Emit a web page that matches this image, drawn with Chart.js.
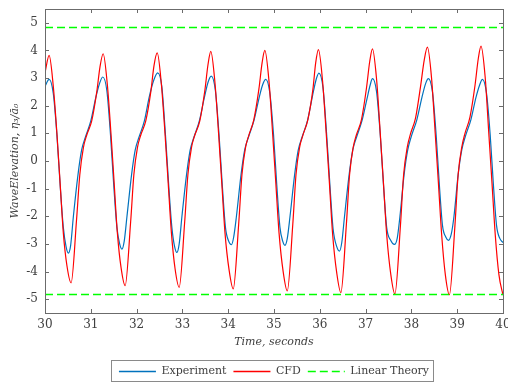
<!DOCTYPE html>
<html>
<head>
<meta charset="utf-8">
<script src="https://cdn.jsdelivr.net/npm/chart.js@4"></script>
<style>
  html, body { margin: 0; padding: 0; background: #fff; }
  canvas { display: block; }
</style>
</head>
<body>
<canvas id="waveChart" width="508" height="383"></canvas>
<script>
// Experiment series
var expTime = [30.00, 30.09,
  30.18, 30.26, 30.33, 30.40, 30.46, 30.51,
  30.56, 30.62, 30.72, 30.80, 30.88, 31.00, 31.11, 31.19, 31.26,
  31.35, 31.43, 31.50, 31.57, 31.63, 31.68,
  31.73, 31.79, 31.89, 31.97, 32.05, 32.17, 32.28, 32.38, 32.46,
  32.55, 32.63, 32.70, 32.77, 32.83, 32.88,
  32.93, 32.99, 33.09, 33.17, 33.25, 33.37, 33.48, 33.56, 33.63,
  33.72, 33.80, 33.87, 33.94, 34.01, 34.07,
  34.12, 34.18, 34.28, 34.36, 34.44, 34.56, 34.67, 34.75, 34.82,
  34.91, 34.99, 35.06, 35.13, 35.19, 35.24,
  35.29, 35.35, 35.45, 35.53, 35.61, 35.73, 35.84, 35.92, 35.98,
  36.07, 36.15, 36.22, 36.29, 36.37, 36.43,
  36.48, 36.54, 36.64, 36.72, 36.80, 36.92, 37.03, 37.10, 37.15,
  37.24, 37.32, 37.39, 37.46, 37.55, 37.63,
  37.69, 37.75, 37.84, 37.92, 38.00, 38.12, 38.23, 38.31, 38.37,
  38.46, 38.54, 38.61, 38.68, 38.75, 38.81,
  38.87, 38.93, 39.02, 39.10, 39.18, 39.30, 39.41, 39.49, 39.55,
  39.64, 39.72, 39.79, 39.86, 39.93, 40.00];
var expValue = [2.70, 2.95,
  2.45, 0.95, -0.85, -2.40, -3.10, -3.33,
  -3.05, -2.00, -0.50, 0.40, 0.85, 1.45, 2.30, 2.80, 3.04,
  2.55, 0.95, -0.85, -2.40, -3.00, -3.19,
  -2.90, -2.00, -0.50, 0.40, 0.85, 1.45, 2.35, 2.95, 3.19,
  2.70, 0.95, -0.85, -2.40, -3.10, -3.31,
  -3.00, -2.00, -0.50, 0.40, 0.85, 1.45, 2.30, 2.85, 3.07,
  2.55, 0.95, -0.85, -2.40, -2.90, -3.03,
  -2.75, -2.00, -0.50, 0.40, 0.85, 1.45, 2.25, 2.75, 2.95,
  2.45, 0.95, -0.85, -2.40, -2.90, -3.05,
  -2.80, -2.00, -0.50, 0.40, 0.85, 1.45, 2.35, 2.95, 3.18,
  2.65, 0.95, -0.85, -2.45, -3.10, -3.26,
  -2.95, -2.00, -0.50, 0.40, 0.85, 1.45, 2.25, 2.75, 2.98,
  2.50, 0.95, -0.85, -2.40, -2.88, -3.02,
  -2.80, -2.00, -0.50, 0.40, 0.90, 1.50, 2.30, 2.80, 2.98,
  2.50, 0.95, -0.85, -2.35, -2.75, -2.87,
  -2.65, -2.00, -0.50, 0.40, 0.90, 1.50, 2.30, 2.75, 2.95,
  2.45, 0.95, -0.85, -2.35, -2.80, -2.95];

// CFD series
var cfdTime = [30.00, 30.09,
  30.18, 30.26, 30.33, 30.40, 30.48, 30.57,
  30.69, 30.76, 30.84, 30.91, 31.02, 31.13, 31.20, 31.27,
  31.36, 31.44, 31.51, 31.58, 31.66, 31.75,
  31.87, 31.94, 32.02, 32.09, 32.20, 32.31, 32.38, 32.45,
  32.54, 32.62, 32.69, 32.76, 32.84, 32.93,
  33.05, 33.12, 33.20, 33.27, 33.38, 33.49, 33.56, 33.62,
  33.71, 33.79, 33.86, 33.93, 34.02, 34.11,
  34.23, 34.30, 34.38, 34.45, 34.56, 34.67, 34.74, 34.80,
  34.89, 34.97, 35.04, 35.11, 35.20, 35.29,
  35.41, 35.48, 35.56, 35.63, 35.74, 35.85, 35.91, 35.97,
  36.06, 36.14, 36.21, 36.28, 36.37, 36.46,
  36.58, 36.65, 36.73, 36.80, 36.91, 37.02, 37.09, 37.15,
  37.24, 37.32, 37.39, 37.46, 37.55, 37.64,
  37.76, 37.83, 37.91, 37.98, 38.09, 38.20, 38.28, 38.35,
  38.44, 38.52, 38.59, 38.66, 38.74, 38.83,
  38.95, 39.02, 39.10, 39.17, 39.28, 39.39, 39.46, 39.52,
  39.61, 39.69, 39.76, 39.83, 39.91, 40.00];
var cfdValue = [3.19, 3.82,
  2.72, 1.00, -0.80, -2.60, -3.80, -4.41,
  -2.10, -0.50, 0.50, 0.93, 1.45, 2.50, 3.40, 3.88,
  2.78, 1.00, -0.80, -2.60, -3.85, -4.51,
  -2.20, -0.50, 0.50, 0.93, 1.45, 2.50, 3.45, 3.91,
  2.80, 1.00, -0.80, -2.60, -3.90, -4.57,
  -2.20, -0.50, 0.50, 0.93, 1.45, 2.55, 3.50, 3.97,
  2.85, 1.00, -0.80, -2.60, -3.95, -4.63,
  -2.25, -0.50, 0.50, 0.93, 1.50, 2.60, 3.55, 4.00,
  2.90, 1.00, -0.80, -2.60, -4.00, -4.70,
  -2.30, -0.50, 0.50, 0.93, 1.50, 2.60, 3.55, 4.03,
  2.90, 1.00, -0.80, -2.65, -4.05, -4.76,
  -2.30, -0.50, 0.50, 0.95, 1.50, 2.65, 3.60, 4.06,
  2.95, 1.00, -0.80, -2.65, -4.10, -4.81,
  -2.35, -0.50, 0.50, 0.98, 1.55, 2.70, 3.65, 4.12,
  3.00, 1.00, -0.80, -2.65, -4.10, -4.84,
  -2.35, -0.50, 0.50, 1.00, 1.60, 2.75, 3.70, 4.16,
  3.05, 1.00, -0.80, -2.65, -4.10, -4.85];

// Linear theory bounds
var theoryTime = [30, 40];
var theoryValue = 4.83;

var xTicks = [30, 31, 32, 33, 34, 35, 36, 37, 38, 39, 40];
var yTicks = [-5, -4, -3, -2, -1, 0, 1, 2, 3, 4, 5];

function toPoints(xs, ys) {
  return xs.map(function (x, i) { return { x: x, y: ys[i] } })
}

var theoryPoints = [
  { x: theoryTime[0], y: theoryValue },
  { x: theoryTime[1], y: theoryValue },
  { x: theoryTime[1], y: null },
  { x: theoryTime[0], y: -theoryValue },
  { x: theoryTime[1], y: -theoryValue }
];

var axisColor = '#6b6b6b';
var textColor = '#404040';
var serif = "'DejaVu Serif', serif";

// box around plot plus inward tick marks on all four sides
var framePlugin = {
  id: 'frame',
  afterDraw: function (chart) {
    var ctx = chart.ctx;
    var a = chart.chartArea;
    var xs = chart.scales.x, ys = chart.scales.y;
    ctx.save();
    ctx.strokeStyle = axisColor;
    ctx.lineWidth = 1;
    ctx.setLineDash([]);
    ctx.strokeRect(Math.round(a.left) + 0.5, Math.round(a.top) + 0.5,
      Math.round(a.right - a.left), Math.round(a.bottom - a.top));
    ctx.beginPath();
    xTicks.forEach(function (v) {
      var px = Math.round(xs.getPixelForValue(v)) + 0.5;
      ctx.moveTo(px, a.bottom); ctx.lineTo(px, a.bottom - 4);
      ctx.moveTo(px, a.top); ctx.lineTo(px, a.top + 4);
    });
    yTicks.forEach(function (v) {
      var py = Math.round(ys.getPixelForValue(v)) + 0.5;
      ctx.moveTo(a.left, py); ctx.lineTo(a.left + 4, py);
      ctx.moveTo(a.right, py); ctx.lineTo(a.right - 4, py);
    });
    ctx.stroke();

    // border round the legend
    var boxes = chart.legend.legendHitBoxes;
    if (boxes && boxes.length) {
      var l = Math.min.apply(null, boxes.map(function (b) { return b.left }));
      var r = Math.max.apply(null, boxes.map(function (b) { return b.left + b.width }));
      var t = Math.min.apply(null, boxes.map(function (b) { return b.top }));
      var bt = Math.max.apply(null, boxes.map(function (b) { return b.top + b.height }));
      ctx.strokeStyle = '#8a8a8a';
      ctx.strokeRect(Math.round(l - 8) + 0.5, Math.round(t - 6) + 0.5,
        Math.round(r - l + 12), Math.round(bt - t + 10));
    }
    ctx.restore();
  }
};

var ctx = document.getElementById('waveChart').getContext('2d');
var waveChart = new Chart(ctx, {
  type: 'line',
  data: {
    datasets: [{
      label: 'Experiment',
      data: toPoints(expTime, expValue),
      borderColor: '#0072BD',
      backgroundColor: '#0072BD',
      borderWidth: 1.2,
      pointRadius: 0,
      cubicInterpolationMode: 'monotone',
      order: 3
    }, {
      label: 'CFD',
      data: toPoints(cfdTime, cfdValue),
      borderColor: '#FF0000',
      backgroundColor: '#FF0000',
      borderWidth: 1.2,
      pointRadius: 0,
      cubicInterpolationMode: 'monotone',
      order: 2
    }, {
      label: 'Linear Theory',
      data: theoryPoints,
      borderColor: '#00FF00',
      backgroundColor: '#00FF00',
      borderWidth: 1.5,
      borderDash: [8, 4],
      pointRadius: 0,
      spanGaps: false,
      order: 1
    }]
  },
  options: {
    responsive: false,
    animation: false,
    layout: { padding: { top: 9, right: 5, bottom: -4, left: 0 } },
    plugins: {
      tooltip: { enabled: false },
      legend: {
        position: 'bottom',
        fullSize: false,
        labels: {
          usePointStyle: true,
          pointStyle: 'line',
          pointStyleWidth: 37,
          boxHeight: 11,
          padding: 7,
          color: textColor,
          font: { family: serif, size: 11 },
          sort: function (a, b) { return a.datasetIndex - b.datasetIndex },
          generateLabels: function (chart) {
            return chart.data.datasets.map(function (ds, i) {
              return {
                text: ds.label,
                datasetIndex: i,
                fillStyle: ds.borderColor,
                strokeStyle: ds.borderColor,
                fontColor: textColor,
                lineWidth: 1.3,
                lineDash: ds.borderDash || [],
                pointStyle: 'line',
                hidden: false
              }
            })
          }
        }
      }
    },
    scales: {
      x: {
        type: 'linear',
        min: 30,
        max: 40,
        grid: { display: false, drawTicks: false },
        border: { display: false },
        afterBuildTicks: function (scale) {
          scale.ticks = xTicks.map(function (v) { return { value: v } })
        },
        afterFit: function (scale) {
          scale.paddingRight = 0
          scale.height = 46
        },
        ticks: {
          color: textColor,
          font: { family: serif, size: 12 },
          padding: 5,
          maxRotation: 0
        },
        title: {
          display: true,
          text: 'Time, seconds',
          color: textColor,
          font: { family: serif, size: 11, style: 'italic' },
          padding: { top: 0, bottom: 10 }
        }
      },
      y: {
        min: -5.5,
        max: 5.5,
        grid: { display: false, drawTicks: false },
        border: { display: false },
        afterBuildTicks: function (scale) {
          scale.ticks = yTicks.map(function (v) { return { value: v } })
        },
        afterFit: function (scale) {
          scale.width = 45
          scale.paddingTop = 0
          scale.paddingBottom = 0
        },
        ticks: {
          color: textColor,
          font: { family: serif, size: 12 },
          padding: 7
        },
        title: {
          display: true,
          text: 'WaveElevation, η₃/ā₀',
          color: textColor,
          font: { family: serif, size: 11, style: 'italic' },
          padding: { top: 9, bottom: 2 }
        }
      }
    }
  },
  plugins: [framePlugin]
});
</script>
</body>
</html>
